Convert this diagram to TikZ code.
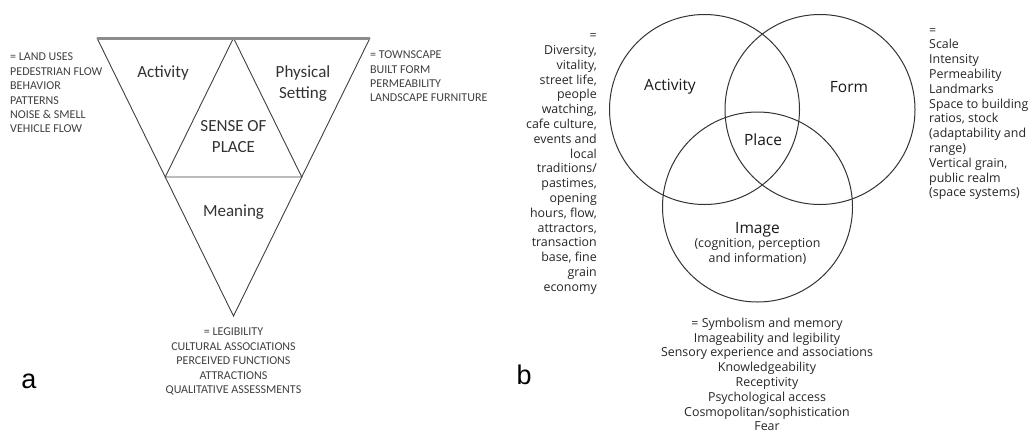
\documentclass[tikz,border=0pt]{standalone}
\usepackage{fontspec}
\setmainfont{Carlito}
\newfontfamily\vennfont{Open Sans}
\newfontfamily\panelfont{Liberation Sans}
\usetikzlibrary{positioning,calc}

\begin{document}
\begin{tikzpicture}[x=1pt, y=-1pt,
    edge/.style={draw=black!75, line width=0.9pt},
    rim/.style={draw=black!45, line width=3pt},
    ring/.style={draw=black!80, line width=1pt},
    bigA/.style={font=\fontsize{17}{21}\selectfont, text=black!80, align=center, inner sep=0pt},
    listA/.style={font=\fontsize{12}{14.4}\selectfont, text=black!75, inner sep=0pt},
    bigB/.style={font=\vennfont\fontsize{15.5}{19}\selectfont, text=black!90, align=center, inner sep=0pt},
    listB/.style={font=\vennfont\fontsize{12.4}{14.8}\selectfont, text=black!85, inner sep=0pt},
    panel/.style={font=\panelfont\fontsize{27}{30}\selectfont, inner sep=0pt}]
  \useasboundingbox (0,0) rectangle (1035,432);

  % (a) inverted triangle, split in four
  \coordinate (tl) at (97,38);
  \coordinate (tr) at (370,38);
  \coordinate (tm) at (233.5,38);
  \coordinate (bt) at (233.5,316);
  \coordinate (ml) at ($(tl)!0.5!(bt)$);
  \coordinate (mr) at ($(tr)!0.5!(bt)$);
  \draw[edge] (tl) -- (bt) -- (tr);
  \draw[edge] (ml) -- (tm) -- (mr) -- cycle;
  \draw[rim] (tl) -- (tr);

  \node[bigA] (actA) at (163,73) {Activity};
  \node[bigA] (physA) at (303,84) {Physical\\Setting};
  \node[bigA] (senseA) at (233.5,137) {SENSE OF\\PLACE};
  \node[bigA] (meanA) at (233.5,212) {Meaning};

  % lists round the triangle
  \node[listA, anchor=west, align=left] (landA) at (10,93)
    {= LAND USES\\PEDESTRIAN FLOW\\BEHAVIOR\\PATTERNS\\NOISE \& SMELL\\VEHICLE FLOW};
  \node[listA, anchor=west, align=left] (townA) at (370,76.5)
    {= TOWNSCAPE\\BUILT FORM\\PERMEABILITY\\LANDSCAPE FURNITURE};
  \node[listA, align=center] (legA) at (233.5,361.5)
    {= LEGIBILITY\\CULTURAL ASSOCIATIONS\\PERCEIVED FUNCTIONS\\ATTRACTIONS\\QUALITATIVE ASSESSMENTS};
  \node[panel] (tagA) at (29,381) {a};

  % (b) three circles
  \draw[ring] (704.5,109.5) circle[radius=95pt];
  \draw[ring] (820,109.5) circle[radius=95pt];
  \draw[ring] (757.5,207) circle[radius=95pt];

  \node[bigB] (actB) at (670,87) {Activity};
  \node[bigB] (formB) at (849,87) {Form};
  \node[bigB] (placeB) at (763,140) {Place};
  \node[bigB] (imgB) at (757.5,230) {Image};
  \node[listB, align=center, below=1pt of imgB] (cogB)
    {(cognition, perception\\and information)};

  % lists round the circles
  \node[listB, anchor=east, align=right] (divB) at (597,164)
    {=\\Diversity,\\vitality,\\street life,\\people\\watching,\\cafe culture,\\events and\\local\\traditions/\\pastimes,\\opening\\hours, flow,\\attractors,\\transaction\\base, fine\\grain\\economy};
  \node[listB, anchor=west, align=left] (scaleB) at (929,114)
    {=\\Scale\\Intensity\\Permeability\\Landmarks\\Space to building\\ratios, stock\\(adaptability and\\range)\\Vertical grain,\\public realm\\(space systems)};
  \node[listB, align=center] (symB) at (767,374.5)
    {= Symbolism and memory\\Imageability and legibility\\Sensory experience and associations\\Knowledgeability\\Receptivity\\Psychological access\\Cosmopolitan/sophistication\\Fear};
  \node[panel] (tagB) at (524,375) {b};
\end{tikzpicture}
\end{document}
